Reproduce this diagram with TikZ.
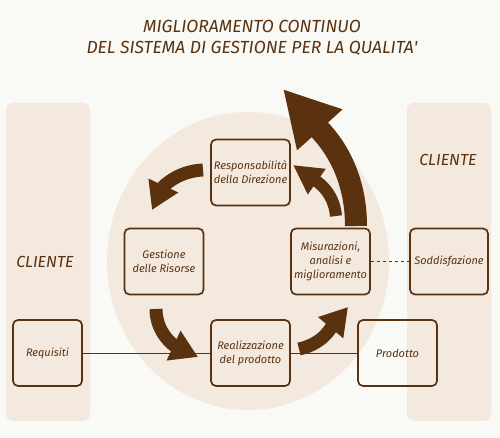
\documentclass[tikz,border=0pt]{standalone}
\usepackage{fontspec}
\setmainfont{Fira Sans}
\usepackage{tikz}
\usetikzlibrary{arrows.meta}
\definecolor{sfondo}{RGB}{249,249,245}
\definecolor{crema}{RGB}{243,233,223}
\definecolor{marrone}{RGB}{90,50,16}
\tikzstyle{fase} = [draw=marrone, line width=1.7pt, rectangle, rounded corners=5pt,
    minimum width=79pt, minimum height=66pt, inner sep=2pt, align=center,
    text=marrone, font=\fontsize{11}{14}\selectfont\itshape]
\tikzstyle{cliente} = [text=marrone, font=\fontsize{16}{18}\selectfont\itshape]
\tikzstyle{freccia} = [draw=marrone, line width=13pt,
    -{Triangle[width=31pt, length=27pt]}]
\tikzstyle{legame} = [draw=marrone, line width=0.9pt]

\begin{document}
\begin{tikzpicture}[x=1pt, y=1pt]
    \fill[sfondo] (0,0) rectangle (500,438);
    \fill[crema, rounded corners=7pt] (6,17) rectangle (90,335);
    \fill[crema, rounded corners=7pt] (407,17) rectangle (491,335);
    \fill[crema] (248,177) ellipse [x radius=141, y radius=149];

    \node[text=marrone, align=center, font=\fontsize{17.5}{20.5}\selectfont\itshape] (titolo) at (252,400)
        {MIGLIORAMENTO CONTINUO\\DEL SISTEMA DI GESTIONE PER LA QUALITA\textquotesingle};
    \node[cliente] (clienteSx) at (45,176) {CLIENTE};
    \node[cliente] (clienteDx) at (448,278) {CLIENTE};

    \node[fase] (resp) at (250.5,265.5) {Responsabilità\\della Direzione};
    \node[fase] (gest) at (164,176.5) {Gestione\\delle Risorse};
    \node[fase] (misu) at (330.5,176.5) {Misurazioni,\\analisi e\\miglioramento};
    \node[fase] (real) at (250.5,85) {Realizzazione\\del prodotto};
    \node[fase, minimum width=69pt] (requ) at (47.5,85) {Requisiti};
    \node[fase] (prod) at (397.5,85) {Prodotto};
    \node[fase, minimum width=78pt] (sodd) at (449,176.5) {Soddisfazione};

    \draw[legame] (requ) -- (real);
    \draw[legame] (real) -- (prod);
    \draw[legame, dashed] (misu) -- (sodd);

    \coordinate (c1a) at (203,268);
    \coordinate (c1b) at (152,228);
    \coordinate (c2a) at (156,129);
    \coordinate (c2b) at (198,81);
    \coordinate (c3a) at (299,89);
    \coordinate (c3b) at (348,131);
    \coordinate (c4a) at (336,222);
    \coordinate (c4b) at (293,273);
    \coordinate (c5a) at (356,212);
    \coordinate (c5b) at (283,349);

    \draw[freccia] (c1a) to[out=182, in=65] (c1b);
    \draw[freccia] (c2a) to[out=-90, in=155] (c2b);
    \draw[freccia] (c3a) to[out=12, in=230] (c3b);
    \draw[freccia, line width=12pt, -{Triangle[width=29pt, length=29pt]}] (c4a) to[out=95, in=-35] (c4b);
    \draw[freccia, line width=22pt, -{Triangle[width=57pt, length=55pt]}] (c5a) to[out=90, in=-48] (c5b);
\end{tikzpicture}
\end{document}
